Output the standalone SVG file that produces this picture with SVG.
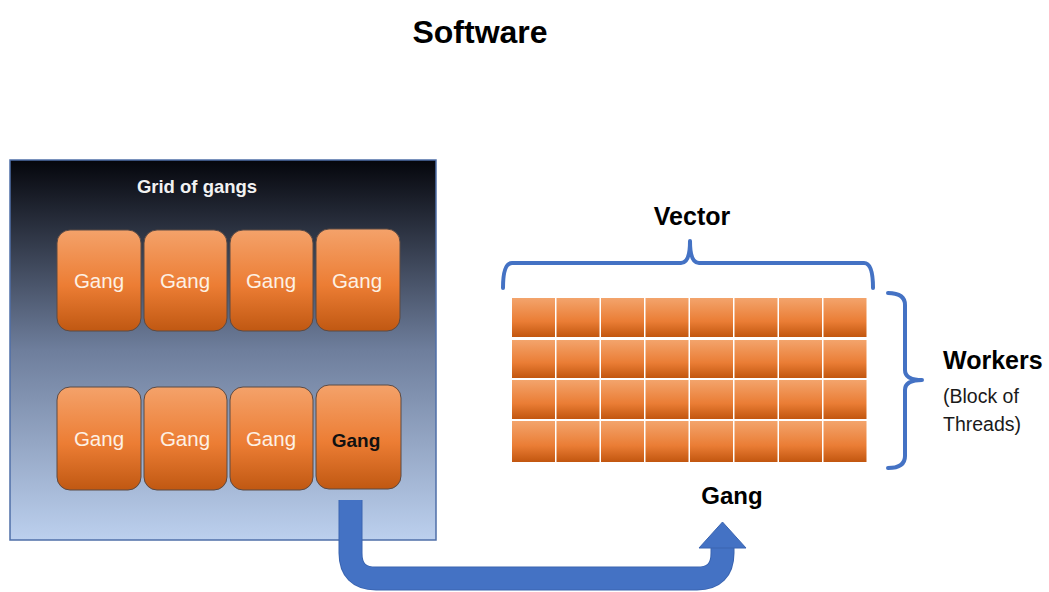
<svg xmlns="http://www.w3.org/2000/svg" width="1049" height="592" viewBox="0 0 1049 592">
<defs>
<linearGradient id="bg" x1="0" y1="0" x2="0" y2="1">
<stop offset="0" stop-color="#05060c"/>
<stop offset="0.5" stop-color="#6e7e9c"/>
<stop offset="1" stop-color="#bcd0ee"/>
</linearGradient>
<linearGradient id="og" x1="0" y1="0" x2="0" y2="1">
<stop offset="0" stop-color="#f4a26a"/>
<stop offset="0.55" stop-color="#ec7d34"/>
<stop offset="1" stop-color="#c05812"/>
</linearGradient>
<linearGradient id="cg" x1="0" y1="0" x2="0" y2="1">
<stop offset="0" stop-color="#f3a46c"/>
<stop offset="0.6" stop-color="#ea7d35"/>
<stop offset="1" stop-color="#c2560f"/>
</linearGradient>
<style>
.t{font-family:"Liberation Sans",Arial,sans-serif}
.gang rect{fill:url(#og);stroke:#5b4a44;stroke-width:1}
.gang text{font-family:"Liberation Sans",Arial,sans-serif;font-size:20.5px;fill:#fdf1e4;text-anchor:middle}
.cell{fill:url(#cg)}
.brace{fill:none;stroke:#4472c4;stroke-width:4;stroke-linecap:round;stroke-linejoin:round}
</style>
</defs>
<rect width="1049" height="592" fill="#ffffff"/>
<text class="t" x="480" y="43" font-size="32" font-weight="bold" text-anchor="middle" fill="#000">Software</text>
<g id="grid">
<rect x="10" y="160" width="426" height="380" fill="url(#bg)" stroke="#4f6fa8" stroke-width="1.5"/>
<text class="t" x="197" y="193" font-size="18.5" font-weight="bold" text-anchor="middle" fill="#f2f2f2">Grid of gangs</text>
</g>
<g id="gang1" class="gang"><rect x="57" y="230" width="84" height="101" rx="13"/><text x="99" y="288">Gang</text></g>
<g id="gang2" class="gang"><rect x="144" y="230" width="83" height="101" rx="13"/><text x="185" y="288">Gang</text></g>
<g id="gang3" class="gang"><rect x="230" y="230" width="83" height="101" rx="13"/><text x="271" y="288">Gang</text></g>
<g id="gang4" class="gang"><rect x="316" y="229" width="84" height="102" rx="13"/><text x="357" y="288">Gang</text></g>
<g id="gang5" class="gang"><rect x="57" y="387" width="84" height="103" rx="13"/><text x="99" y="446">Gang</text></g>
<g id="gang6" class="gang"><rect x="144" y="387" width="83" height="103" rx="13"/><text x="185" y="446">Gang</text></g>
<g id="gang7" class="gang"><rect x="230" y="387" width="83" height="103" rx="13"/><text x="271" y="446">Gang</text></g>
<g id="gang8" class="gang"><rect x="316" y="385" width="85" height="104" rx="13"/><text x="356" y="447" style="fill:#111;font-weight:bold;font-size:19px">Gang</text></g>
<g id="vector-grid">
<g id="row1">
<rect class="cell" x="512" y="298" width="43" height="39"/><rect class="cell" x="556.5" y="298" width="43" height="39"/><rect class="cell" x="601" y="298" width="43" height="39"/><rect class="cell" x="645.5" y="298" width="43" height="39"/><rect class="cell" x="690" y="298" width="43" height="39"/><rect class="cell" x="734.5" y="298" width="43" height="39"/><rect class="cell" x="779" y="298" width="43" height="39"/><rect class="cell" x="823.5" y="298" width="43" height="39"/>
</g>
<g id="row2">
<rect class="cell" x="512" y="340" width="43" height="38"/><rect class="cell" x="556.5" y="340" width="43" height="38"/><rect class="cell" x="601" y="340" width="43" height="38"/><rect class="cell" x="645.5" y="340" width="43" height="38"/><rect class="cell" x="690" y="340" width="43" height="38"/><rect class="cell" x="734.5" y="340" width="43" height="38"/><rect class="cell" x="779" y="340" width="43" height="38"/><rect class="cell" x="823.5" y="340" width="43" height="38"/>
</g>
<g id="row3">
<rect class="cell" x="512" y="380" width="43" height="39"/><rect class="cell" x="556.5" y="380" width="43" height="39"/><rect class="cell" x="601" y="380" width="43" height="39"/><rect class="cell" x="645.5" y="380" width="43" height="39"/><rect class="cell" x="690" y="380" width="43" height="39"/><rect class="cell" x="734.5" y="380" width="43" height="39"/><rect class="cell" x="779" y="380" width="43" height="39"/><rect class="cell" x="823.5" y="380" width="43" height="39"/>
</g>
<g id="row4">
<rect class="cell" x="512" y="421" width="43" height="41"/><rect class="cell" x="556.5" y="421" width="43" height="41"/><rect class="cell" x="601" y="421" width="43" height="41"/><rect class="cell" x="645.5" y="421" width="43" height="41"/><rect class="cell" x="690" y="421" width="43" height="41"/><rect class="cell" x="734.5" y="421" width="43" height="41"/><rect class="cell" x="779" y="421" width="43" height="41"/><rect class="cell" x="823.5" y="421" width="43" height="41"/>
</g>
</g>
<g id="labels">
<text class="t" x="692" y="225" font-size="25" font-weight="bold" text-anchor="middle" fill="#000">Vector</text>
<text class="t" x="732" y="504" font-size="24" font-weight="bold" text-anchor="middle" fill="#000">Gang</text>
<text class="t" x="943" y="369" font-size="25" font-weight="bold" fill="#000">Workers</text>
<text class="t" x="943" y="403" font-size="19.5" fill="#1a1a1a">(Block of</text>
<text class="t" x="943" y="431" font-size="19.5" fill="#1a1a1a">Threads)</text>
</g>
<g id="connectors">
<path class="brace" d="M503,288 Q503,263 512,263 L681,263 Q690,263 690,241 Q690,263 699,263 L864,263 Q873,263 873,288"/>
<path class="brace" d="M888,293 Q905,293 905,305 L905,370 Q905,380 922,380 Q905,380 905,390 L905,456 Q905,468 888,468"/>
<path d="M350.5,500 V553 Q350.5,578.5 376,578.5 H697 Q722.5,578.5 722.5,553 V547" fill="none" stroke="#3a64b0" stroke-width="24"/>
<path d="M350.5,500 V553 Q350.5,578.5 376,578.5 H697 Q722.5,578.5 722.5,553 V546" fill="none" stroke="#4472c4" stroke-width="22"/>
<polygon points="699,548 746,548 722.5,522" fill="#4472c4" stroke="#3a64b0" stroke-width="1"/>
</g>
</svg>
